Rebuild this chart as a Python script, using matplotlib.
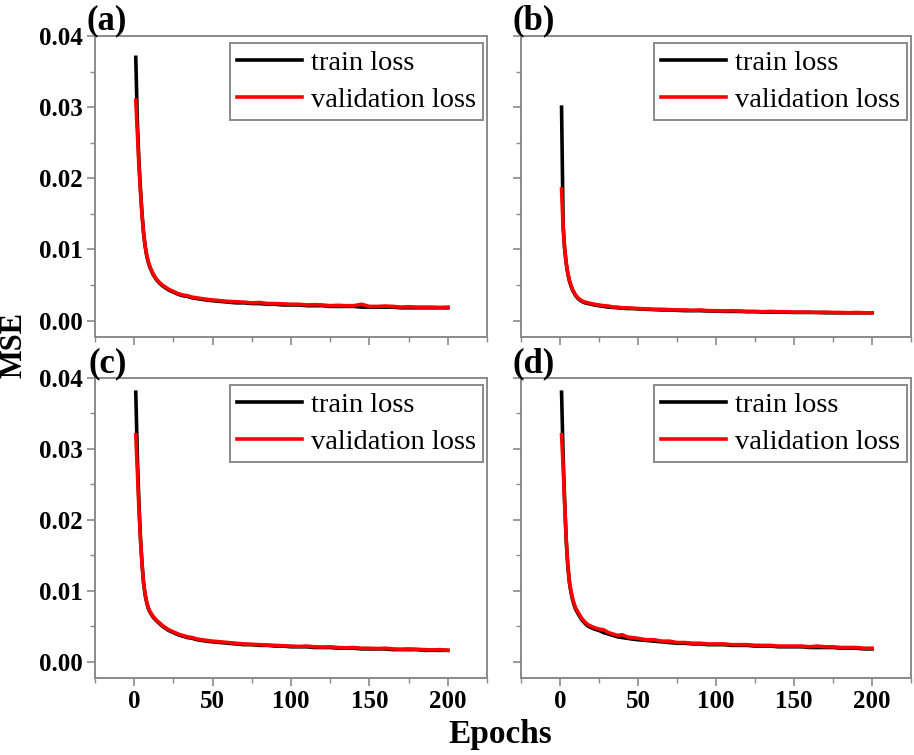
import matplotlib
matplotlib.use("Agg")
import matplotlib.pyplot as plt
from matplotlib.ticker import MultipleLocator

plt.rcParams['font.family'] = ['Liberation Serif', 'DejaVu Serif']

epochs = [1, 2, 3, 4, 5, 6, 7, 8, 9, 10, 12, 14, 16, 18, 20, 22, 25, 28, 31, 34,
          37, 40, 43, 46, 50, 55, 60, 65, 70, 75, 80, 85, 90, 95, 100, 105, 110,
          115, 120, 125, 130, 135, 140, 145, 150, 155, 160, 165, 170, 175, 180,
          185, 190, 195, 200]

train_a = [0.0370, 0.0280, 0.0225, 0.0185, 0.0150, 0.0123, 0.0104, 0.0091, 0.0082, 0.0075,
           0.0065, 0.0058, 0.0053, 0.0049, 0.0046, 0.0043, 0.0040, 0.0037, 0.0035, 0.0034,
           0.0032, 0.0031, 0.0030, 0.0029, 0.0028, 0.0027, 0.0026, 0.0025, 0.0025, 0.0024,
           0.0024, 0.0023, 0.0023, 0.0022, 0.0022, 0.0022, 0.0021, 0.0021, 0.0021, 0.0020,
           0.0020, 0.0020, 0.0020, 0.0019, 0.0019, 0.0019, 0.0019, 0.0019, 0.0018, 0.0018,
           0.0018, 0.0018, 0.0018, 0.0018, 0.0018]
val_a = [0.0310, 0.0265, 0.0218, 0.0180, 0.0148, 0.0122, 0.0105, 0.0092, 0.0083, 0.0076,
         0.0066, 0.0059, 0.0054, 0.0050, 0.0047, 0.0044, 0.0041, 0.0038, 0.0036, 0.0035,
         0.0033, 0.0032, 0.0031, 0.0030, 0.0029, 0.0028, 0.0027, 0.00265, 0.0026, 0.0025,
         0.00255, 0.0024, 0.0024, 0.00235, 0.0023, 0.0023, 0.0022, 0.00225, 0.0022, 0.0021,
         0.00215, 0.0021, 0.0021, 0.0023, 0.0020, 0.0020, 0.00205, 0.0020, 0.0019, 0.00195,
         0.0019, 0.0019, 0.0019, 0.00185, 0.0019]

train_b = [0.0300, 0.0135, 0.0100, 0.0080, 0.0066, 0.0056, 0.0049, 0.0043, 0.0039, 0.0035,
           0.0030, 0.0027, 0.0025, 0.0024, 0.0023, 0.0022, 0.0021, 0.0020, 0.0019, 0.00185,
           0.0018, 0.00175, 0.0017, 0.0017, 0.00165, 0.0016, 0.00155, 0.0015, 0.0015, 0.00145,
           0.0014, 0.0014, 0.0014, 0.00135, 0.00135, 0.0013, 0.0013, 0.0013, 0.00125, 0.00125,
           0.0012, 0.0012, 0.0012, 0.0012, 0.00115, 0.00115, 0.00115, 0.00115, 0.0011, 0.0011,
           0.0011, 0.0011, 0.0011, 0.0011, 0.0011]
val_b = [0.0185, 0.0130, 0.0101, 0.0081, 0.0067, 0.0057, 0.0050, 0.0044, 0.0040, 0.0036,
         0.0031, 0.0028, 0.0026, 0.0025, 0.0024, 0.0023, 0.0022, 0.0021, 0.00205, 0.0019,
         0.0019, 0.0018, 0.0018, 0.00175, 0.0017, 0.00165, 0.0016, 0.0016, 0.00155, 0.0015,
         0.0015, 0.00145, 0.0015, 0.0014, 0.0014, 0.00135, 0.0014, 0.00135, 0.0013, 0.0013,
         0.00125, 0.0013, 0.00125, 0.00125, 0.0012, 0.0012, 0.0012, 0.00115, 0.0012, 0.00115,
         0.00115, 0.0011, 0.00115, 0.0011, 0.0011]

train_c = [0.0380, 0.0290, 0.0225, 0.0175, 0.0138, 0.0110, 0.0094, 0.0083, 0.0075, 0.0070,
           0.0063, 0.0058, 0.0054, 0.0050, 0.0047, 0.0044, 0.0041, 0.0038, 0.0036, 0.0034,
           0.0033, 0.0031, 0.0030, 0.0029, 0.0028, 0.0027, 0.0026, 0.0025, 0.0024, 0.0024,
           0.0023, 0.0023, 0.0022, 0.0022, 0.0021, 0.0021, 0.0021, 0.0020, 0.0020, 0.0020,
           0.0019, 0.0019, 0.0019, 0.0018, 0.0018, 0.0018, 0.0018, 0.0017, 0.0017, 0.0017,
           0.0017, 0.0016, 0.0016, 0.0016, 0.0016]
val_c = [0.0320, 0.0270, 0.0215, 0.0172, 0.0137, 0.0111, 0.0095, 0.0084, 0.0076, 0.0071,
         0.0064, 0.0059, 0.0055, 0.0051, 0.0048, 0.0045, 0.0042, 0.0039, 0.0037, 0.0035,
         0.0034, 0.0032, 0.0031, 0.0030, 0.0029, 0.0028, 0.0027, 0.0026, 0.0025, 0.00245,
         0.0024, 0.00235, 0.0023, 0.00225, 0.0022, 0.00215, 0.0022, 0.0021, 0.00205, 0.0021,
         0.0020, 0.00195, 0.0020, 0.0019, 0.0019, 0.00185, 0.0019, 0.0018, 0.00175, 0.0018,
         0.00175, 0.0017, 0.00165, 0.0017, 0.0016]

train_d = [0.0380, 0.0290, 0.0225, 0.0170, 0.0135, 0.0112, 0.0098, 0.0088, 0.0080, 0.0074,
           0.0066, 0.0059, 0.0054, 0.0050, 0.0048, 0.0046, 0.0044, 0.0041, 0.0039, 0.0037,
           0.0035, 0.0034, 0.0033, 0.0032, 0.0031, 0.0030, 0.0029, 0.0028, 0.0027, 0.0026,
           0.0026, 0.0025, 0.0025, 0.0024, 0.0024, 0.0024, 0.0023, 0.0023, 0.0023, 0.0022,
           0.0022, 0.0022, 0.0021, 0.0021, 0.0021, 0.0021, 0.0020, 0.0020, 0.0020, 0.0020,
           0.0019, 0.0019, 0.0019, 0.0018, 0.0018]
val_d = [0.0320, 0.0275, 0.0220, 0.0172, 0.0137, 0.0114, 0.0100, 0.0090, 0.0082, 0.0076,
         0.0068, 0.0061, 0.0056, 0.0052, 0.0050, 0.0048, 0.0046, 0.0045, 0.0041, 0.0039,
         0.0037, 0.0038, 0.0035, 0.0034, 0.0033, 0.0031, 0.0031, 0.0029, 0.0029, 0.0027,
         0.0027, 0.0026, 0.0026, 0.0025, 0.0025, 0.0025, 0.0024, 0.0024, 0.0024, 0.0023,
         0.0023, 0.0023, 0.0022, 0.0022, 0.0022, 0.0022, 0.0021, 0.0022, 0.0021, 0.0021,
         0.0020, 0.0020, 0.0020, 0.0019, 0.0019]

panels = ['(a)', '(b)', '(c)', '(d)']
train_series = [train_a, train_b, train_c, train_d]
val_series = [val_a, val_b, val_c, val_d]
x_ticks = [0, 50, 100, 150, 200]
y_ticks = [0.00, 0.01, 0.02, 0.03, 0.04]

W, H = 914, 755
fig = plt.figure(figsize=(W / 100, H / 100), dpi=100)

lefts = [95, 521, 95, 521]
rights = [487, 911, 487, 911]
tops = [36, 36, 378, 378]
bottoms = [337, 337, 678, 678]
label_pos = [(87, 29), (512, 29), (88, 372), (513, 372)]

spine_col = '#8a8a8a'
for i in range(4):
    ax = fig.add_axes([lefts[i] / W, 1 - bottoms[i] / H,
                       (rights[i] - lefts[i]) / W, (bottoms[i] - tops[i]) / H])
    ax.plot(epochs, train_series[i], color='black', lw=2.6, label='train loss')
    ax.plot(epochs, val_series[i], color='#ff0000', lw=2.6, label='validation loss')
    ax.set_xlim(-25, 225)
    ax.set_ylim(-0.0023, 0.04)
    ax.set_xticks(x_ticks)
    ax.set_yticks(y_ticks)
    ax.xaxis.set_minor_locator(MultipleLocator(25))
    ax.yaxis.set_minor_locator(MultipleLocator(0.005))
    for s in ax.spines.values():
        s.set_color(spine_col)
        s.set_linewidth(1.4)
    ax.tick_params(which='major', direction='out', length=6, width=1.2,
                   color=spine_col, labelsize=18, pad=3)
    ax.tick_params(which='minor', direction='out', length=3.5, width=1.0,
                   color=spine_col)
    if i in (0, 2):
        ax.set_yticklabels(['%.2f' % v for v in y_ticks], fontweight='bold')
    else:
        ax.set_yticklabels([])
    if i in (2, 3):
        ax.set_xticklabels([str(v) for v in x_ticks], fontweight='bold')
    else:
        ax.set_xticklabels([])
    axw = rights[i] - lefts[i]
    axh = bottoms[i] - tops[i]
    leg = ax.legend(loc='upper right', bbox_to_anchor=(1 - 4 / axw, 1 - 7 / axh),
                    borderaxespad=0, fontsize=20.5, frameon=True, fancybox=False,
                    framealpha=1, edgecolor=spine_col, handlelength=2.3,
                    handletextpad=0.3, borderpad=0.25, labelspacing=0.4)
    leg.get_frame().set_linewidth(1.4)
    fig.text(label_pos[i][0] / W, 1 - label_pos[i][1] / H, panels[i],
             fontsize=25, fontweight='bold', ha='left', va='baseline')

fig.text(13.5 / W, 1 - 345 / H, 'MSE', rotation=90, fontsize=22,
         fontweight='bold', ha='center', va='center')
fig.text(500 / W, 1 - 735 / H, 'Epochs', fontsize=24, fontweight='bold',
         ha='center', va='center')

fig.savefig('out.png', dpi=100)
